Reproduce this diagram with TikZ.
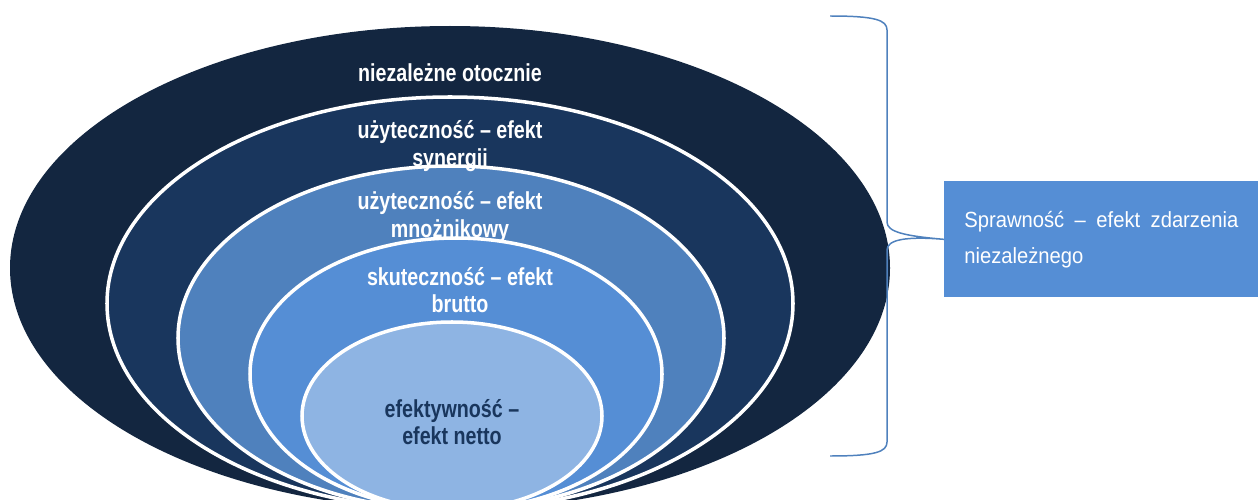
\documentclass[tikz,border=0pt]{standalone}
\usepackage{fontspec}
\setmainfont{Liberation Sans}
\newfontfamily\ringfont{Liberation Sans}[FakeStretch=0.8]
\newfontfamily\boxfont{Liberation Sans}[FakeStretch=0.92]
\definecolor{ringA}{HTML}{132640}
\definecolor{ringB}{HTML}{19365D}
\definecolor{ringC}{HTML}{4F81BD}
\definecolor{ringD}{HTML}{558ED5}
\definecolor{ringE}{HTML}{8EB4E3}
\definecolor{braceblue}{HTML}{4F81BD}
\tikzset{
  ring/.style={draw=white,line width=2pt},
  ringtext/.style={font=\ringfont\bfseries\fontsize{14}{15.5}\selectfont,text=white,align=center,inner sep=0pt},
  box/.style={fill=ringD,text=white,font=\boxfont\fontsize{12.5}{20.4}\selectfont,
    minimum width=6.28cm,minimum height=2.32cm,text width=5.48cm,inner xsep=0.4cm,align=justify},
  brace/.style={draw=braceblue,line width=0.85pt}
}
\begin{document}
\begin{tikzpicture}[x=0.02cm,y=-0.02cm]
\clip (0,0) rectangle (1258,500);
\fill[ringA] (450,268) ellipse [x radius=440,y radius=242];
\filldraw[ring,fill=ringB] (450,303.5) ellipse [x radius=343,y radius=206.5];
\filldraw[ring,fill=ringC] (451,338) ellipse [x radius=273,y radius=172];
\filldraw[ring,fill=ringD] (456,374) ellipse [x radius=206,y radius=136];
\filldraw[ring,fill=ringE] (452,416) ellipse [x radius=150,y radius=94];

\node[ringtext] (otoczenie) at (450,73) {niezależne otocznie};
\node[ringtext] (synergia) at (450,146) {użyteczność – efekt\\synergii};
\node[ringtext] (mnoznik) at (450,217) {użyteczność – efekt\\mnożnikowy};
\node[ringtext] (brutto) at (460,290) {skuteczność – efekt\\brutto};
\node[ringtext,text=ringB] (netto) at (452,422) {efektywność –\\efekt netto};

\node[box,anchor=north west] (sprawnosc) at (944,181) {Sprawność – efekt zdarzenia\linebreak niezależnego};

\coordinate (btop) at (830,16);
\coordinate (bbot) at (830,456);
\draw[brace] (btop) .. controls (875,16) and (887,20) .. (887,30) -- (887,222)
  .. controls (887,232) and (905,236) .. (sprawnosc.west)
  .. controls (905,236) and (887,240) .. (887,250) -- (887,442)
  .. controls (887,452) and (875,456) .. (bbot);
\end{tikzpicture}
\end{document}
